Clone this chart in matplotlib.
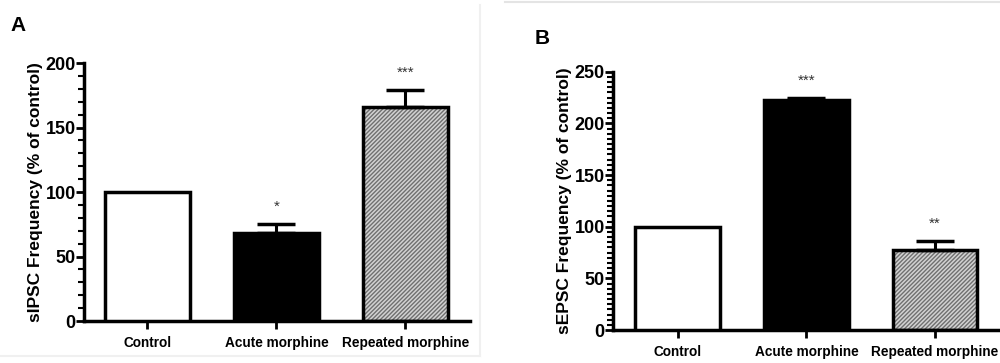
import matplotlib.pyplot as plt
import numpy as np
from matplotlib.ticker import MultipleLocator

groups = ["Control", "Acute morphine", "Repeated morphine"]

ipsc_mean = [100, 68, 166]
ipsc_err = [0, 7, 13]
ipsc_stars = ["", "*", "***"]

epsc_mean = [100, 223, 77]
epsc_err = [0, 1.5, 9]
epsc_stars = ["", "***", "**"]

plt.rcParams['font.family'] = ['Liberation Sans', 'DejaVu Sans']


def drawPanel(ax, means, errs, stars, ymax, major, minor, ylabel):
    x = np.arange(len(means))
    w = 0.66
    faces = ['white', 'black', '#d2d2d2']
    for i in range(len(means)):
        if i == 2:
            ax.bar(x[i], means[i], w, color=faces[i], edgecolor='#707070',
                   hatch='////////', linewidth=0, zorder=2)
            ax.bar(x[i], means[i], w, fill=False, edgecolor='black',
                   linewidth=2.5, zorder=3)
        else:
            ax.bar(x[i], means[i], w, color=faces[i], edgecolor='black',
                   linewidth=2.5, zorder=3)
        if errs[i] > 0:
            ax.errorbar(x[i], means[i], yerr=[[0], [errs[i]]], fmt='none',
                        ecolor='black', elinewidth=2.2, capsize=14,
                        capthick=2.5, zorder=4)
        if stars[i]:
            ax.text(x[i], means[i] + errs[i] + ymax * 0.04, stars[i],
                    ha='center', va='bottom', fontsize=11, color='#333333')

    ax.set_ylim(0, ymax)
    ax.yaxis.set_major_locator(MultipleLocator(major))
    ax.yaxis.set_minor_locator(MultipleLocator(minor))
    ax.set_xticks(x)
    ax.set_xticklabels(groups, fontsize=9.8, fontweight='bold')
    ax.set_ylabel(ylabel, fontsize=12.5, fontweight='bold', labelpad=2)
    for t in ax.get_yticklabels():
        t.set_fontsize(13)
        t.set_fontweight('bold')
    ax.spines['top'].set_visible(False)
    ax.spines['right'].set_visible(False)
    ax.spines['left'].set_linewidth(2.5)
    ax.spines['bottom'].set_linewidth(2.5)
    ax.tick_params(axis='y', which='major', length=6, width=2, pad=0)
    ax.tick_params(axis='y', which='minor', length=4, width=1.5)
    ax.tick_params(axis='x', length=6, width=2, pad=5)


fig = plt.figure(figsize=(10, 3.63), dpi=100)

axA = fig.add_axes([0.084, 0.1157, 0.386, 0.7107])
drawPanel(axA, ipsc_mean, ipsc_err, ipsc_stars, 200, 50, 10,
          "sIPSC Frequency (% of control)")
axA.set_xlim(-0.492, 2.5)

axB = fig.add_axes([0.613, 0.0909, 0.387, 0.7116])
drawPanel(axB, epsc_mean, epsc_err, epsc_stars, 250, 50, 5,
          "sEPSC Frequency (% of control)")
axB.set_xlim(-0.504, 2.505)

fig.text(0.010, 0.93, "A", fontsize=15, fontweight='bold', va='center')
fig.text(0.535, 0.895, "B", fontsize=15, fontweight='bold', va='center')

# faint panel frames
frame = '#f0f0f0'
fig.add_artist(plt.Line2D([0.48, 0.48], [0.02, 0.985], color=frame, lw=1.5))
fig.add_artist(plt.Line2D([0.0, 0.48], [0.02, 0.02], color=frame, lw=1.5))
fig.add_artist(plt.Line2D([0.505, 1.0], [0.995, 0.995], color='#e4e4e4', lw=1.5))

fig.savefig("out.png", dpi=100)
